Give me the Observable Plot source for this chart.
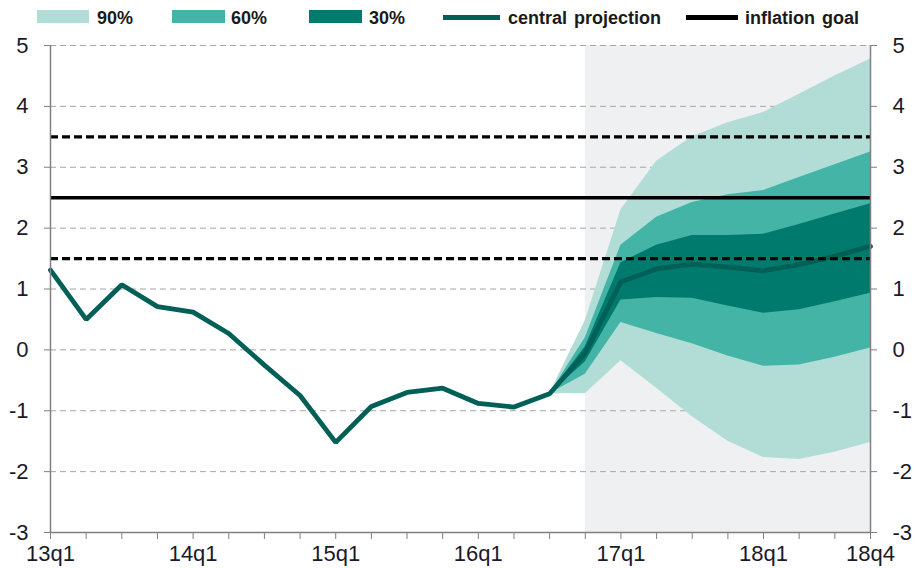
<!DOCTYPE html>
<html>
<head>
<meta charset="utf-8">
<script src="https://cdn.jsdelivr.net/npm/d3@7"></script>
<script src="https://cdn.jsdelivr.net/npm/@observablehq/plot@0.6"></script>
<style>
  body { margin: 0; background: #fff; font-family: "Liberation Sans", Arial, sans-serif; }
  #legend { position: relative; height: 34px; width: 916px; }
  #legend .sw { position: absolute; top: 10px; height: 13px; }
  #legend .ln { position: absolute; height: 5px; top: 15px; }
  #legend .lb { position: absolute; top: 7px; font-size: 18px; line-height: 22px; font-weight: bold; color: #1a1a1a; white-space: nowrap; word-spacing: 2px; }
</style>
</head>
<body>
<div id="legend">
  <div class="sw" style="left:37px;width:52px;background:#b2ddd6"></div>
  <div class="lb" style="left:97px">90%</div>
  <div class="sw" style="left:172px;width:53px;background:#43b4a6"></div>
  <div class="lb" style="left:231px">60%</div>
  <div class="sw" style="left:309px;width:53px;background:#007a6d"></div>
  <div class="lb" style="left:369px">30%</div>
  <div class="ln" style="left:443px;width:57px;background:#005f56"></div>
  <div class="lb" style="left:508px">central projection</div>
  <div class="ln" style="left:686px;width:52px;background:#000"></div>
  <div class="lb" style="left:745px">inflation goal</div>
</div>
<div id="chart"></div>
<script>
const quarters = ["13q1","13q2","13q3","13q4","14q1","14q2","14q3","14q4","15q1","15q2","15q3","15q4",
                  "16q1","16q2","16q3","16q4","17q1","17q2","17q3","17q4","18q1","18q2","18q3","18q4"];
const tickLabels = {0:"13q1",4:"14q1",8:"15q1",12:"16q1",16:"17q1",20:"18q1",23:"18q4"};
const central = [1.31,0.5,1.07,0.71,0.62,0.27,-0.25,-0.75,-1.52,-0.93,-0.7,-0.63,
                 -0.88,-0.94,-0.72,-0.05,1.12,1.33,1.41,1.36,1.3,1.4,1.54,1.7];
// fan bands from 16q3 (index 14) to 18q4 (index 23)
const fanStart = 14;
const upper90 = [-0.72,0.48,2.3,3.1,3.5,3.73,3.9,4.2,4.5,4.78];
const upper60 = [-0.72,0.2,1.72,2.18,2.42,2.55,2.62,2.83,3.04,3.25];
const upper30 = [-0.72,0.05,1.43,1.72,1.88,1.88,1.9,2.06,2.23,2.4];
const lower30 = [-0.72,-0.2,0.82,0.86,0.85,0.72,0.6,0.66,0.79,0.93];
const lower60 = [-0.72,-0.4,0.45,0.27,0.1,-0.1,-0.27,-0.25,-0.12,0.03];
const lower90 = [-0.72,-0.72,-0.18,-0.63,-1.1,-1.5,-1.77,-1.8,-1.68,-1.52];
const inflationGoal = 2.5;
const bandLines = [1.5, 3.5];
const projectionStart = 15; // 16q4
const yTicks = [-3,-2,-1,0,1,2,3,4,5];

const lineData = central.map((v, i) => ({i, v, q: quarters[i]}));
const fan = upper90.map((_, k) => ({
  i: fanStart + k,
  u90: upper90[k], u60: upper60[k], u30: upper30[k],
  l30: lower30[k], l60: lower60[k], l90: lower90[k]
}));

const font = "Liberation Sans, Arial, sans-serif";
const chart = Plot.plot({
  width: 916,
  height: 534,
  marginLeft: 50,
  marginRight: 46,
  marginTop: 11,
  marginBottom: 36,
  style: {fontFamily: font, fontSize: "22px", color: "#1a1a2a", background: "#fff", overflow: "visible"},
  x: {type: "linear", domain: [0, 23]},
  y: {domain: [-3, 5]},
  marks: [
    Plot.rect([{x1: projectionStart, x2: 23, y1: -3, y2: 5}], {x1: "x1", x2: "x2", y1: "y1", y2: "y2", fill: "#eff0f2"}),
    Plot.ruleY(yTicks.filter(d => d > -3), {stroke: "#a6a6a6", strokeWidth: 1, strokeDasharray: "6,4"}),
    Plot.areaY(fan, {x: "i", y1: "l90", y2: "u90", fill: "#b2ddd6", curve: "linear"}),
    Plot.areaY(fan, {x: "i", y1: "l60", y2: "u60", fill: "#43b4a6", curve: "linear"}),
    Plot.areaY(fan, {x: "i", y1: "l30", y2: "u30", fill: "#007a6d", curve: "linear"}),
    Plot.line(lineData, {x: "i", y: "v", stroke: "#005f56", strokeWidth: 4.8, strokeLinejoin: "miter"}),
    Plot.ruleY([inflationGoal], {x1: 0, x2: 23, stroke: "#000", strokeWidth: 3.5}),
    Plot.ruleY(bandLines, {x1: 0, x2: 23, stroke: "#000", strokeWidth: 3.2, strokeDasharray: "8,4"}),
    Plot.ruleX([0, 23], {y1: -3, y2: 5, stroke: "#808080", strokeWidth: 1.5}),
    Plot.ruleY([-3], {stroke: "#808080", strokeWidth: 1.5}),
    Plot.axisX({ticks: d3.range(0, 24), tickFormat: d => tickLabels[d] ?? "", tickSize: 7, tickPadding: 6, stroke: "#808080", fill: "#1a1a2a"}),
    Plot.axisY({anchor: "left", ticks: yTicks, tickFormat: d => d, tickSize: 6, tickPadding: 16, stroke: "#808080", fill: "#1a1a2a"}),
    Plot.axisY({anchor: "right", ticks: yTicks, tickFormat: d => d, tickSize: 6, tickPadding: 16, stroke: "#808080", fill: "#1a1a2a"})
  ]
});
document.getElementById("chart").appendChild(chart);
</script>
</body>
</html>
